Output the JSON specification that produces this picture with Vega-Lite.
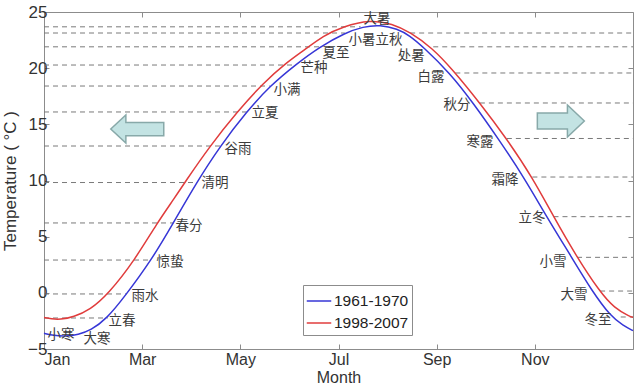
{
  "$schema": "https://vega.github.io/schema/vega-lite/v6.json",
  "width": 589,
  "height": 337,
  "autosize": "none",
  "padding": {"left": 44, "top": 12, "right": 7, "bottom": 41},
  "background": "white",
  "config": {
    "font": "Liberation Sans",
    "view": {"stroke": "#8c8c8c", "strokeWidth": 1},
    "axis": {"grid": false, "domain": false, "tickColor": "#8c8c8c", "tickSize": -5, "labelColor": "#333", "titleColor": "#333", "titleFontWeight": "normal"}
  },
  "resolve": {"axis": {"x": "independent", "y": "independent"}},
  "layer": [
    {
      "data": {"values": [
        {"t": -2.24, "x1": 0, "x2": 1.3},
        {"t": -0.1, "x1": 0, "x2": 1.68},
        {"t": 2.92, "x1": 0, "x2": 2.19},
        {"t": 6.22, "x1": 0, "x2": 2.63},
        {"t": 9.82, "x1": 0, "x2": 3.11},
        {"t": 13.07, "x1": 0, "x2": 3.59},
        {"t": 16.1, "x1": 0, "x2": 4.13},
        {"t": 18.41, "x1": 0, "x2": 4.6},
        {"t": 20.28, "x1": 0, "x2": 5.1},
        {"t": 21.9, "x1": 0, "x2": 5.62},
        {"t": 23.13, "x1": 0, "x2": 6.13},
        {"t": 23.68, "x1": 0, "x2": 6.45},
        {"t": 23.13, "x1": 7.46, "x2": 12},
        {"t": 21.9, "x1": 7.93, "x2": 12},
        {"t": 19.57, "x1": 8.38, "x2": 12},
        {"t": 16.9, "x1": 8.88, "x2": 12},
        {"t": 13.74, "x1": 9.43, "x2": 12},
        {"t": 10.31, "x1": 9.95, "x2": 12},
        {"t": 6.78, "x1": 10.38, "x2": 12},
        {"t": 3.16, "x1": 10.86, "x2": 12},
        {"t": 0.16, "x1": 11.33, "x2": 12},
        {"t": -2.15, "x1": 11.75, "x2": 12}
      ]},
      "mark": {"type": "rule", "color": "#7a7a7a", "strokeWidth": 1, "strokeDash": [5, 4]},
      "encoding": {
        "x": {"field": "x1", "type": "quantitative", "scale": {"domain": [0, 12], "nice": false, "zero": false},
              "axis": {"orient": "top", "values": [0, 2, 4, 6, 8, 10], "labels": false, "title": null}},
        "x2": {"field": "x2"},
        "y": {"field": "t", "type": "quantitative", "scale": {"domain": [-5, 25], "nice": false, "zero": false},
              "axis": {"orient": "right", "values": [-5, 0, 5, 10, 15, 20, 25], "labels": false, "title": null}}
      }
    },
    {
      "data": {"values": [
        {"p": "1961-1970", "m": 0, "t": -3.6},
        {"p": "1961-1970", "m": 0.2, "t": -3.8},
        {"p": "1961-1970", "m": 0.43, "t": -3.88},
        {"p": "1961-1970", "m": 0.7, "t": -3.72},
        {"p": "1961-1970", "m": 0.95, "t": -3.35},
        {"p": "1961-1970", "m": 1.28, "t": -2.3},
        {"p": "1961-1970", "m": 1.65, "t": -0.3},
        {"p": "1961-1970", "m": 2.19, "t": 2.92},
        {"p": "1961-1970", "m": 2.63, "t": 6.19},
        {"p": "1961-1970", "m": 3.11, "t": 9.84},
        {"p": "1961-1970", "m": 3.59, "t": 13.07},
        {"p": "1961-1970", "m": 4.13, "t": 16.13},
        {"p": "1961-1970", "m": 4.6, "t": 18.41},
        {"p": "1961-1970", "m": 5.15, "t": 20.4},
        {"p": "1961-1970", "m": 5.62, "t": 21.9},
        {"p": "1961-1970", "m": 6.13, "t": 23.13},
        {"p": "1961-1970", "m": 6.5, "t": 23.7},
        {"p": "1961-1970", "m": 6.85, "t": 23.86},
        {"p": "1961-1970", "m": 7.2, "t": 23.5},
        {"p": "1961-1970", "m": 7.45, "t": 22.9},
        {"p": "1961-1970", "m": 7.72, "t": 21.91},
        {"p": "1961-1970", "m": 8.27, "t": 19.57},
        {"p": "1961-1970", "m": 8.75, "t": 16.87},
        {"p": "1961-1970", "m": 9.26, "t": 13.69},
        {"p": "1961-1970", "m": 9.77, "t": 10.34},
        {"p": "1961-1970", "m": 10.24, "t": 6.78},
        {"p": "1961-1970", "m": 10.75, "t": 3.16},
        {"p": "1961-1970", "m": 11.16, "t": 0.19},
        {"p": "1961-1970", "m": 11.55, "t": -2.12},
        {"p": "1961-1970", "m": 11.8, "t": -2.9},
        {"p": "1961-1970", "m": 12, "t": -3.37},
        {"p": "1998-2007", "m": 0, "t": -2.2},
        {"p": "1998-2007", "m": 0.15, "t": -2.32},
        {"p": "1998-2007", "m": 0.33, "t": -2.38},
        {"p": "1998-2007", "m": 0.6, "t": -2.15},
        {"p": "1998-2007", "m": 0.94, "t": -1.5},
        {"p": "1998-2007", "m": 1.31, "t": -0.1},
        {"p": "1998-2007", "m": 1.85, "t": 2.92},
        {"p": "1998-2007", "m": 2.3, "t": 6.19},
        {"p": "1998-2007", "m": 2.67, "t": 8.5},
        {"p": "1998-2007", "m": 2.87, "t": 9.84},
        {"p": "1998-2007", "m": 3.38, "t": 13.07},
        {"p": "1998-2007", "m": 3.94, "t": 16.13},
        {"p": "1998-2007", "m": 4.47, "t": 18.7},
        {"p": "1998-2007", "m": 4.94, "t": 20.5},
        {"p": "1998-2007", "m": 5.3, "t": 21.6},
        {"p": "1998-2007", "m": 5.69, "t": 22.9},
        {"p": "1998-2007", "m": 6.09, "t": 23.7},
        {"p": "1998-2007", "m": 6.64, "t": 24.32},
        {"p": "1998-2007", "m": 7.1, "t": 23.95},
        {"p": "1998-2007", "m": 7.46, "t": 23.2},
        {"p": "1998-2007", "m": 7.91, "t": 21.8},
        {"p": "1998-2007", "m": 8.33, "t": 19.85},
        {"p": "1998-2007", "m": 8.88, "t": 16.9},
        {"p": "1998-2007", "m": 9.43, "t": 13.7},
        {"p": "1998-2007", "m": 9.96, "t": 10.2},
        {"p": "1998-2007", "m": 10.38, "t": 6.8},
        {"p": "1998-2007", "m": 10.84, "t": 3.3},
        {"p": "1998-2007", "m": 11.33, "t": 0.05},
        {"p": "1998-2007", "m": 11.62, "t": -1.35},
        {"p": "1998-2007", "m": 11.94, "t": -2.12},
        {"p": "1998-2007", "m": 12, "t": -2.18}
      ]},
      "mark": {"type": "line", "strokeWidth": 1.5, "interpolate": "basis"},
      "encoding": {
        "x": {"field": "m", "type": "quantitative",
              "axis": {"orient": "bottom", "values": [0, 2, 4, 6, 8, 10], "labelExpr": "['Jan','Mar','May','Jul','Sep','Nov'][round(datum.value/2)]",
                       "labelFontSize": 16, "labelPadding": 7, "title": "Month", "titleFontSize": 16, "titlePadding": 2}},
        "y": {"field": "t", "type": "quantitative",
              "axis": {"orient": "left", "values": [-5, 0, 5, 10, 15, 20, 25], "labelFontSize": 17, "labelPadding": 2,
                       "title": "Temperature ( °C )", "titleFontSize": 17, "titlePadding": 8}},
        "color": {"field": "p", "type": "nominal",
                  "scale": {"domain": ["1961-1970", "1998-2007"], "range": ["#3636d6", "#e03c3c"]},
                  "legend": {"orient": "none", "legendX": 259, "legendY": 273, "title": null, "direction": "vertical",
                             "symbolType": "stroke", "symbolSize": 600, "symbolStrokeWidth": 1.5,
                             "labelFontSize": 15.5, "labelColor": "#222", "labelOffset": 2,
                             "strokeColor": "#8c8c8c", "fillColor": "white", "padding": 3, "rowPadding": 0}}
      }
    },
    {
      "data": {"values": [
        {"m": 0.346, "t": -3.75, "s": "小寒"},
        {"m": 1.08, "t": -4.11, "s": "大寒"},
        {"m": 1.589, "t": -2.51, "s": "立春"},
        {"m": 2.058, "t": -0.28, "s": "雨水"},
        {"m": 2.567, "t": 2.74, "s": "惊蛰"},
        {"m": 2.954, "t": 5.95, "s": "春分"},
        {"m": 3.484, "t": 9.78, "s": "清明"},
        {"m": 3.953, "t": 12.8, "s": "谷雨"},
        {"m": 4.503, "t": 16.01, "s": "立夏"},
        {"m": 4.951, "t": 18.06, "s": "小满"},
        {"m": 5.501, "t": 20.01, "s": "芒种"},
        {"m": 5.95, "t": 21.35, "s": "夏至"},
        {"m": 6.48, "t": 22.51, "s": "小暑"},
        {"m": 6.785, "t": 24.35, "s": "大暑"},
        {"m": 7.03, "t": 22.51, "s": "立秋"},
        {"m": 7.48, "t": 21.08, "s": "处暑"},
        {"m": 7.885, "t": 19.21, "s": "白露"},
        {"m": 8.415, "t": 16.72, "s": "秋分"},
        {"m": 8.884, "t": 13.43, "s": "寒露"},
        {"m": 9.393, "t": 10.04, "s": "霜降"},
        {"m": 9.943, "t": 6.66, "s": "立冬"},
        {"m": 10.371, "t": 2.74, "s": "小雪"},
        {"m": 10.799, "t": -0.19, "s": "大雪"},
        {"m": 11.288, "t": -2.42, "s": "冬至"}
      ]},
      "mark": {"type": "text", "font": "Noto Sans CJK SC", "fontSize": 13.5, "color": "#3c3c3c", "align": "center", "baseline": "middle"},
      "encoding": {
        "x": {"field": "m", "type": "quantitative", "axis": null},
        "y": {"field": "t", "type": "quantitative", "axis": null},
        "text": {"field": "s"}
      }
    },
    {
      "data": {"values": [{"m": 1.9, "t": 14.58}]},
      "mark": {"type": "point", "filled": true, "size": 2809, "fill": "#c3e3e3", "stroke": "#88a9a9", "strokeWidth": 1.5, "opacity": 1,
               "shape": "M -1 0 L -0.43 -0.53 L -0.43 -0.25 L 1 -0.25 L 1 0.25 L -0.43 0.25 L -0.43 0.53 Z"},
      "encoding": {
        "x": {"field": "m", "type": "quantitative", "axis": null},
        "y": {"field": "t", "type": "quantitative", "axis": null}
      }
    },
    {
      "data": {"values": [{"m": 10.53, "t": 15.3}]},
      "mark": {"type": "point", "filled": true, "size": 2209, "fill": "#c3e3e3", "stroke": "#88a9a9", "strokeWidth": 1.5, "opacity": 1,
               "shape": "M 1 0 L 0.28 -0.68 L 0.28 -0.34 L -1 -0.34 L -1 0.34 L 0.28 0.34 L 0.28 0.68 Z"},
      "encoding": {
        "x": {"field": "m", "type": "quantitative", "axis": null},
        "y": {"field": "t", "type": "quantitative", "axis": null}
      }
    }
  ]
}
